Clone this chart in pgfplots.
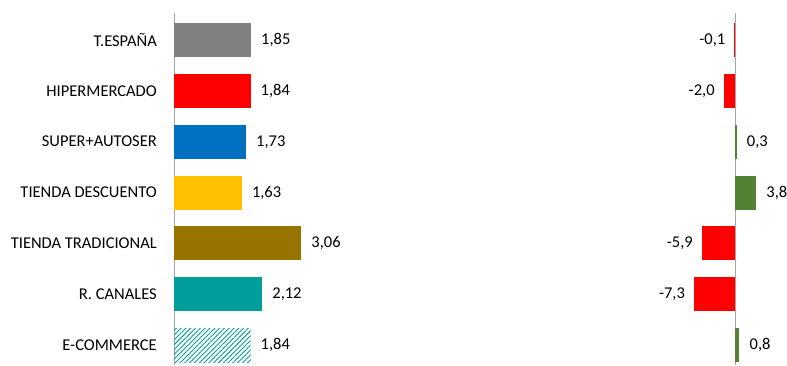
\documentclass[border=0pt]{standalone}
\usepackage{fontspec}
\setmainfont{Carlito}
\usepackage{pgfplots}
\pgfplotsset{compat=1.18}
\usetikzlibrary{patterns.meta}
\definecolor{cgray}{HTML}{808080}
\definecolor{cred}{HTML}{FF0000}
\definecolor{cblue}{HTML}{0070C0}
\definecolor{cgold}{HTML}{FFC000}
\definecolor{cbrown}{HTML}{997300}
\definecolor{cteal}{HTML}{009E9A}
\definecolor{cgreen}{HTML}{548235}
\definecolor{caxis}{HTML}{A6A6A6}
\begin{document}
\begin{tikzpicture}[x=1pt,y=1pt]
\useasboundingbox (0,0) rectangle (787,-365);
\pgfplotsset{
  common/.style={
    scale only axis, height=352pt, y dir=reverse, ymin=-0.53, ymax=6.39,
    xbar, bar width=34pt, bar shift=0pt, clip=false,
    axis x line=none, xtick=\empty,
    axis line style={-, draw=caxis, line width=0.8pt},
    major tick length=0pt,
    nodes near coords style={font=\fontsize{16.5}{19}\selectfont, text=black, inner sep=0pt},
  },
  posl/.style={nodes near coords, nodes near coords style={anchor=west, xshift=10pt}},
  negl/.style={nodes near coords, nodes near coords style={anchor=east, xshift=-9pt}},
}
% left panel
\begin{axis}[common, at={(174pt,-365pt)}, anchor=south west, width=156pt,
  xmin=0, xmax=3.75, axis y line*=left,
  ytick={0,...,6},
  yticklabels={T.ESPAÑA,HIPERMERCADO,SUPER+AUTOSER,TIENDA DESCUENTO,TIENDA TRADICIONAL,R. CANALES,E-COMMERCE},
  yticklabel style={font=\fontsize{16.5}{19}\selectfont, anchor=east, inner sep=0pt, xshift=-17pt},
  /pgf/number format/.cd, use comma, fixed, fixed zerofill, precision=2, assume math mode=true]
\addplot[fill=cgray, draw=none, posl] coordinates {(1.85,0)};
\addplot[fill=cred, draw=none, posl] coordinates {(1.84,1)};
\addplot[fill=cblue, draw=none, posl] coordinates {(1.73,2)};
\addplot[fill=cgold, draw=none, posl] coordinates {(1.63,3)};
\addplot[fill=cbrown, draw=none, posl] coordinates {(3.06,4)};
\addplot[fill=cteal, draw=none, posl] coordinates {(2.12,5)};
\addplot[pattern={Lines[angle=45, distance=3.4pt, line width=0.9pt]}, pattern color=cteal, draw=none, posl] coordinates {(1.84,6)};
\end{axis}
% right panel
\begin{axis}[common, at={(684.6pt,-365pt)}, anchor=south west, width=78.4pt,
  xmin=-9, xmax=5, axis y line*=center, ytick=\empty,
  /pgf/number format/.cd, use comma, fixed, fixed zerofill, precision=1, assume math mode=true]
\addplot[fill=cred, draw=none, negl] coordinates {(-0.1,0)};
\addplot[fill=cred, draw=none, negl] coordinates {(-2.0,1)};
\addplot[fill=cgreen, draw=none, posl] coordinates {(0.3,2)};
\addplot[fill=cgreen, draw=none, posl] coordinates {(3.8,3)};
\addplot[fill=cred, draw=none, negl] coordinates {(-5.9,4)};
\addplot[fill=cred, draw=none, negl] coordinates {(-7.3,5)};
\addplot[fill=cgreen, draw=none, posl] coordinates {(0.8,6)};
\end{axis}
\end{tikzpicture}
\end{document}
